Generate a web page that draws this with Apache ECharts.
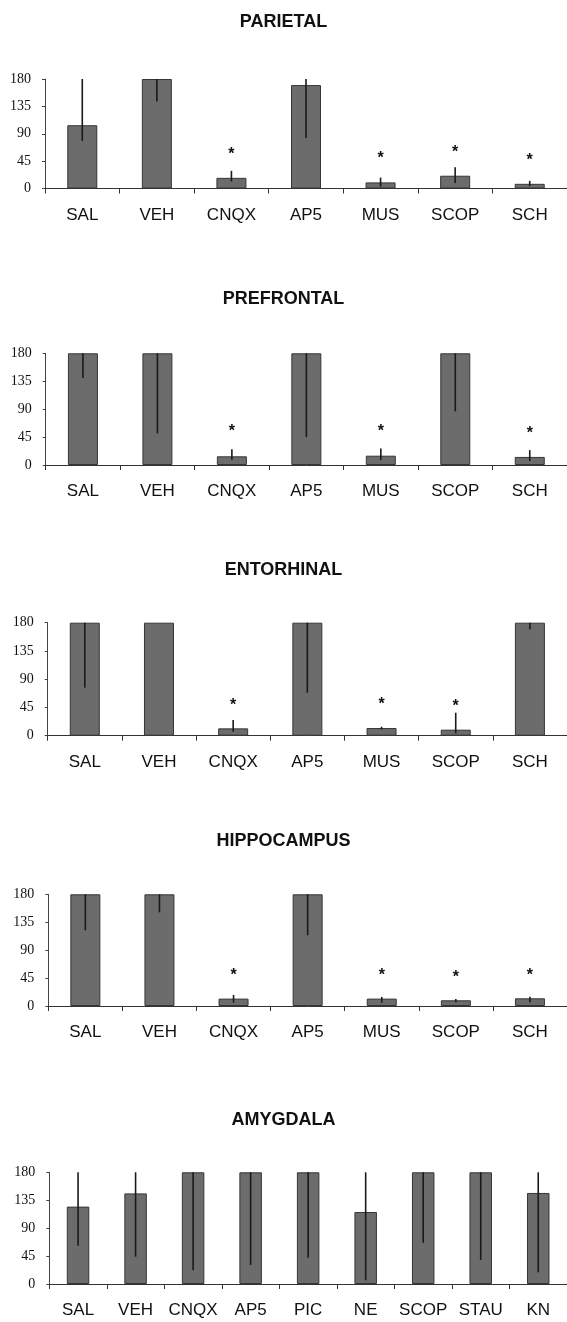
<!DOCTYPE html>
<html>
<head>
<meta charset="utf-8">
<script src="https://cdn.jsdelivr.net/npm/echarts@6/dist/echarts.min.js"></script>
<style>
html,body{margin:0;padding:0;background:#fff;}
#chart{width:567px;height:1322px;}
</style>
</head>
<body>
<div id="chart"></div>
<script>
// ---- data ----
const categoriesA = ['SAL','VEH','CNQX','AP5','MUS','SCOP','SCH'];
const categoriesAmyg = ['SAL','VEH','CNQX','AP5','PIC','NE','SCOP','STAU','KN'];
const yTicks = [0, 45, 90, 135, 180];

const parietalMean     = [104, 180, 17.5, 170, 10, 21, 7.7];
const parietalErrLow   = [78, 143, 11.5, 83, 3, 9, 4];
const parietalErrHigh  = [180, 180, 29, 180, 18, 35, 12.6];
const parietalStars    = [null, null, 62, null, 55, 66, 52];

const prefrontalMean    = [180, 180, 14, 180, 15, 180, 13];
const prefrontalErrLow  = [140, 51, 8.6, 45, 8, 86.5, 6.5];
const prefrontalErrHigh = [180, 180, 25.4, 180, 26.5, 180, 24];
const prefrontalStars   = [null, null, 59.5, null, 60.5, null, 57];

const entorhinalMean    = [180, 180, 11.7, 180, 12.2, 9.6, 180];
const entorhinalErrLow  = [76.5, 180, 6.4, 68.5, 10, 3.7, 169];
const entorhinalErrHigh = [180, 180, 25, 180, 14.3, 36.6, 180];
const entorhinalStars   = [null, null, 55, null, 56, 53, null];

const hippocampusMean    = [180, 180, 11.9, 180, 11.9, 9.2, 12.4];
const hippocampusErrLow  = [122, 151, 5.4, 114, 5.4, 6, 6];
const hippocampusErrHigh = [180, 180, 17.8, 180, 14.5, 11.3, 15];
const hippocampusStars   = [null, null, 56, null, 56, 53, 56];

const amygdalaMean    = [124.7, 146, 180, 180, 180, 116, 180, 180, 146.7];
const amygdalaErrLow  = [61.8, 44, 22, 30.6, 42.4, 6, 66.6, 38.7, 18.8];
const amygdalaErrHigh = [180, 180, 180, 180, 180, 180, 180, 180, 180];
const amygdalaStars   = [null, null, null, null, null, null, null, null, null];

const panelTitles = ['PARIETAL', 'PREFRONTAL', 'ENTORHINAL', 'HIPPOCAMPUS', 'AMYGDALA'];

// ---- layout (pixels) ----
const panels = [
  {title: panelTitles[0], cats: categoriesA, mean: parietalMean, lo: parietalErrLow, hi: parietalErrHigh, stars: parietalStars,
   left: 45, width: 524, top: 79, height: 109.5, titleY: 17, barW: 30},
  {title: panelTitles[1], cats: categoriesA, mean: prefrontalMean, lo: prefrontalErrLow, hi: prefrontalErrHigh, stars: prefrontalStars,
   left: 45.7, width: 525, top: 353.3, height: 111.7, titleY: 294, barW: 30},
  {title: panelTitles[2], cats: categoriesA, mean: entorhinalMean, lo: entorhinalErrLow, hi: entorhinalErrHigh, stars: entorhinalStars,
   left: 47.7, width: 529, top: 622.7, height: 113, titleY: 565, barW: 30},
  {title: panelTitles[3], cats: categoriesA, mean: hippocampusMean, lo: hippocampusErrLow, hi: hippocampusErrHigh, stars: hippocampusStars,
   left: 48.3, width: 528.5, top: 894.3, height: 111.7, titleY: 836, barW: 30},
  {title: panelTitles[4], cats: categoriesAmyg, mean: amygdalaMean, lo: amygdalaErrLow, hi: amygdalaErrHigh, stars: amygdalaStars,
   left: 49.3, width: 528, top: 1172.3, height: 111.7, titleY: 1115, barW: 22.5}
];

const titles = [], grids = [], xAxes = [], yAxes = [], series = [];
panels.forEach((p, k) => {
  titles.push({
    text: p.title, left: 'center', top: p.titleY - 11,
    textStyle: {fontFamily: 'Liberation Sans', fontWeight: 'bold', fontSize: 18, color: '#111', lineHeight: 22}
  });
  grids.push({left: p.left, width: p.width, top: p.top, height: p.height, containLabel: false});
  xAxes.push({
    type: 'category', gridIndex: k, data: p.cats, boundaryGap: true,
    axisLine: {show: true, lineStyle: {color: '#333', width: 1}},
    axisTick: {show: true, alignWithLabel: false, length: 5, lineStyle: {color: '#333', width: 1}},
    axisLabel: {fontFamily: 'Liberation Sans', fontSize: 17, color: '#111', margin: 18, interval: 0},
    splitLine: {show: false}
  });
  yAxes.push({
    type: 'value', gridIndex: k, min: 0, max: 180, interval: 45,
    axisLine: {show: true, lineStyle: {color: '#444', width: 1}},
    axisTick: {show: true, length: 3, lineStyle: {color: '#444'}},
    axisLabel: {fontFamily: 'Liberation Serif', fontSize: 14, color: '#111', margin: 14,
      formatter: v => yTicks.indexOf(v) >= 0 ? String(v) : ''},
    splitLine: {show: false}
  });
  series.push({
    type: 'bar', xAxisIndex: k, yAxisIndex: k, data: p.mean, barWidth: p.barW,
    itemStyle: {color: '#6c6c6c', borderColor: '#363636', borderWidth: 1},
    silent: true, animation: false
  });
  series.push({
    type: 'custom', xAxisIndex: k, yAxisIndex: k, z: 5, animation: false, silent: true,
    data: p.cats.map((c, i) => [i, p.lo[i], p.hi[i]]),
    encode: {x: 0, y: [1, 2]},
    renderItem: (params, api) => {
      const a = api.coord([api.value(0), api.value(1)]);
      const b = api.coord([api.value(0), api.value(2)]);
      return {type: 'line', shape: {x1: a[0], y1: a[1], x2: b[0], y2: b[1]},
        style: {stroke: '#1a1a1a', lineWidth: 1.6}};
    }
  });
  const starData = [];
  p.stars.forEach((v, i) => { if (v != null) starData.push([i, v]); });
  series.push({
    type: 'custom', xAxisIndex: k, yAxisIndex: k, z: 6, animation: false, silent: true,
    data: starData, encode: {x: 0, y: 1},
    renderItem: (params, api) => {
      const c = api.coord([api.value(0), api.value(1)]);
      return {type: 'text', x: c[0], y: c[1] + 4,
        style: {text: '*', align: 'center', verticalAlign: 'middle',
          font: 'bold 16px "Liberation Sans"', fill: '#111'}};
    }
  });
});

const chart = echarts.init(document.getElementById('chart'), null, {renderer: 'canvas'});
chart.setOption({
  animation: false,
  backgroundColor: '#fff',
  title: titles, grid: grids, xAxis: xAxes, yAxis: yAxes, series: series
});
</script>
</body>
</html>
